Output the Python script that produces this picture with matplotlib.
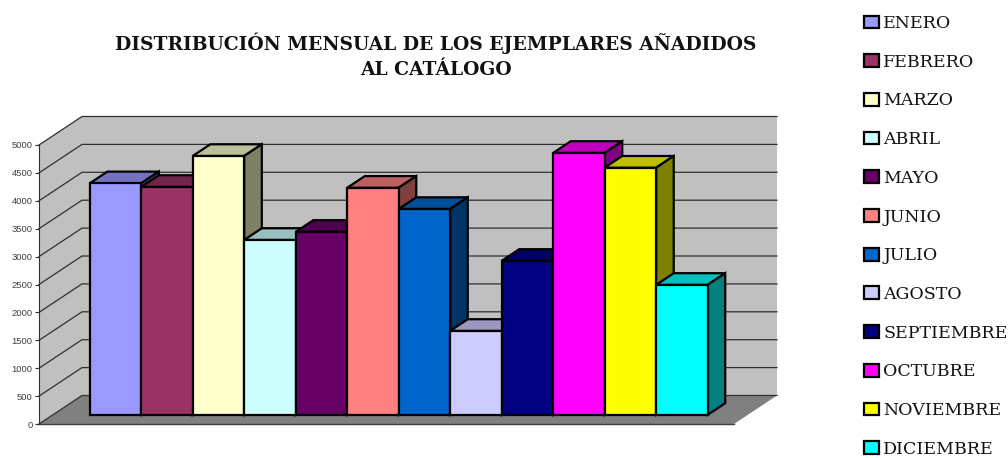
# -*- coding: utf-8 -*-
import matplotlib
matplotlib.use('Agg')
import matplotlib.pyplot as plt
from matplotlib.patches import Polygon, Patch

meses = ['ENERO', 'FEBRERO', 'MARZO', 'ABRIL', 'MAYO', 'JUNIO', 'JULIO',
         'AGOSTO', 'SEPTIEMBRE', 'OCTUBRE', 'NOVIEMBRE', 'DICIEMBRE']
ejemplares = [4150, 4085, 4640, 3135, 3280, 4070, 3690, 1505, 2760, 4695, 4430, 2330]
colores = ['#9999FF', '#993366', '#FFFFCC', '#CCFFFF', '#660066', '#FF8080',
           '#0066CC', '#CCCCFF', '#000080', '#FF00FF', '#FFFF00', '#00FFFF']
ticks = [0, 500, 1000, 1500, 2000, 2500, 3000, 3500, 4000, 4500, 5000]
titulo = 'DISTRIBUCIÓN MENSUAL DE LOS EJEMPLARES AÑADIDOS\nAL CATÁLOGO'

W, H = 1008, 458
fig = plt.figure(figsize=(W / 100, H / 100), dpi=100)
ax = fig.add_axes([39 / W, (H - 424) / H, (734 - 39) / W, 279 / H])

# one category = 51.5 px, 5000 units = 279 px
xmin, xmax = -0.718, 12.78
ax.set_xlim(xmin, xmax)
ax.set_ylim(0, 5000)

# depth of the 3D box, in data units
DX = 43 / 51.5
DY = 28.5 / 279 * 5000
d0, d1 = 0.32, 0.73


def pr(x, v, d):
    return (x + d * DX, v + d * DY)


def poly(pts, fc, ec='none', lw=0, z=1):
    ax.add_patch(Polygon(pts, closed=True, fc=fc, ec=ec, lw=lw, zorder=z,
                         clip_on=False, joinstyle='miter'))


def shade(c, f):
    r, g, b = matplotlib.colors.to_rgb(c)
    return (r * f, g * f, b * f)


# walls and floor
poly([pr(xmin, 0, 0), pr(xmin, 5000, 0), pr(xmin, 5000, 1), pr(xmin, 0, 1)], '#C0C0C0')
poly([pr(xmin, 0, 1), pr(xmin, 5000, 1), pr(xmax, 5000, 1), pr(xmax, 0, 1)], '#C0C0C0')
poly([pr(xmin, 0, 0), pr(xmin, 0, 1), pr(xmax, 0, 1), pr(xmax, 0, 0)], '#808080')

for t in ticks:
    a, b, c = pr(xmin, t, 0), pr(xmin, t, 1), pr(xmax, t, 1)
    ax.plot([a[0], b[0], c[0]], [a[1], b[1], c[1]], color='#303030', lw=0.9,
            zorder=2, clip_on=False, solid_joinstyle='miter')
ax.plot([xmin, xmax], [0, 0], color='#404040', lw=1.0, zorder=2, clip_on=False)

# bars, left to right so each one covers the side of the previous
z = 3
for i, (v, c) in enumerate(zip(ejemplares, colores)):
    x0, x1 = i, i + 1
    poly([pr(x0, v, d0), pr(x0, v, d1), pr(x1, v, d1), pr(x1, v, d0)],
         shade(c, 0.75), 'black', 1.6, z)
    poly([pr(x1, 0, d0), pr(x1, v, d0), pr(x1, v, d1), pr(x1, 0, d1)],
         shade(c, 0.5), 'black', 1.6, z)
    poly([pr(x0, 0, d0), pr(x0, v, d0), pr(x1, v, d0), pr(x1, 0, d0)],
         c, 'black', 1.6, z + 0.5)
    z += 1

ax.set_yticks(ticks)
ax.set_xticks([])
ax.tick_params(axis='y', length=3, width=0.8, color='#303030', pad=1.5,
               labelsize=6.8, labelcolor='#404040')
for lab in ax.get_yticklabels():
    lab.set_family('Liberation Sans')
for s in ['top', 'right', 'bottom']:
    ax.spines[s].set_visible(False)
ax.spines['left'].set_color('#303030')
ax.spines['left'].set_linewidth(0.8)
ax.spines['left'].set_zorder(2)
ax.patch.set_visible(False)

# DejaVu Serif is wider: stands in for the letter-spaced serif of the original
fig.text(436 / W, (H - 56) / H, titulo, family='DejaVu Serif', weight='bold',
         fontsize=13.5, ha='center', va='center', linespacing=1.52, color='#111111')

handles = [Patch(fc=c, ec='black', lw=1.6) for c in colores]
leg = fig.legend(handles, meses, loc='upper left',
                 bbox_to_anchor=(864 / W, (H - 15) / H), frameon=False,
                 prop={'family': 'DejaVu Serif', 'size': 12.5},
                 labelspacing=1.25, handlelength=0.86, handleheight=0.75,
                 handletextpad=0.24, borderpad=0, borderaxespad=0)
for t in leg.get_texts():
    t.set_color('#111111')

fig.savefig('out.png', dpi=100)
